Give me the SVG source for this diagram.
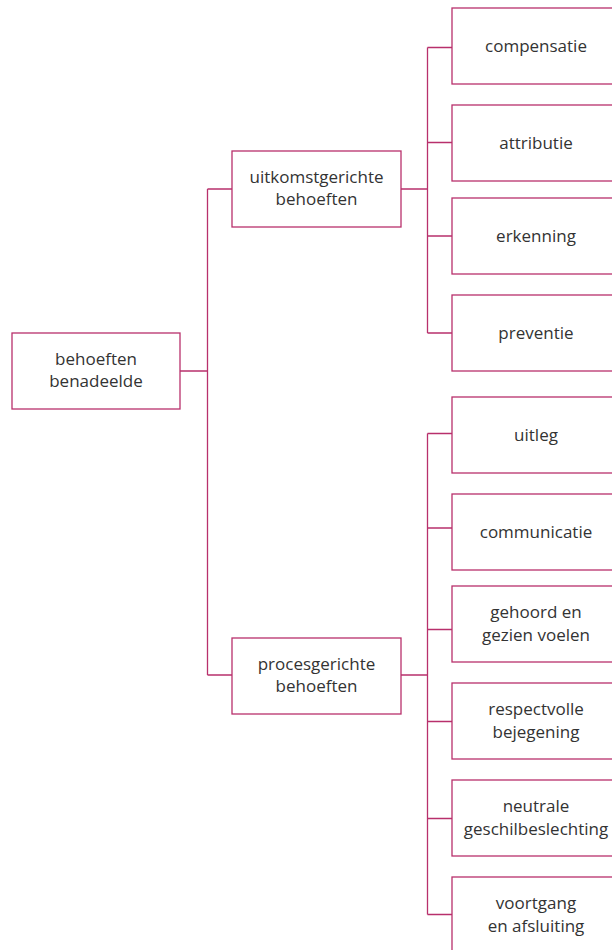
<svg xmlns="http://www.w3.org/2000/svg" width="612" height="950" viewBox="0 0 612 950">
  <style>
    .box { fill: #ffffff; stroke: #b8306c; stroke-width: 1.3; }
    .link { fill: none; stroke: #b8306c; stroke-width: 1.3; }
    .label { font-family: "Open Sans", "Liberation Sans", sans-serif; font-size: 17px; fill: #333333; text-anchor: middle; }
  </style>
  <rect width="612" height="950" fill="#ffffff"/>

  <!-- tree connectors -->
  <g id="connectors">
    <path class="link" d="M180 371 H207.5 M207.5 189 V675 M207.5 189 H232 M207.5 675 H232"/>
    <path class="link" d="M401 189 H427.5 M427.5 47.5 V333 M427.5 47.5 H452 M427.5 142.5 H452 M427.5 236 H452 M427.5 333 H452"/>
    <path class="link" d="M401 675 H427.5 M427.5 433.5 V914.5 M427.5 433.5 H452 M427.5 528 H452 M427.5 629.5 H452 M427.5 721.5 H452 M427.5 818.5 H452 M427.5 914.5 H452"/>
  </g>

  <!-- root -->
  <g id="behoeften-benadeelde">
    <rect class="box" x="12" y="333" width="168" height="76"/>
    <text class="label" x="96" y="365">behoeften</text>
    <text class="label" x="96" y="387">benadeelde</text>
  </g>

  <!-- second level -->
  <g id="uitkomstgerichte-behoeften">
    <rect class="box" x="232" y="151" width="169" height="76"/>
    <text class="label" x="316.5" y="183">uitkomstgerichte</text>
    <text class="label" x="316.5" y="205">behoeften</text>
  </g>
  <g id="procesgerichte-behoeften">
    <rect class="box" x="232" y="638" width="169" height="76"/>
    <text class="label" x="316.5" y="670">procesgerichte</text>
    <text class="label" x="316.5" y="692">behoeften</text>
  </g>

  <!-- outcome needs -->
  <g id="compensatie">
    <rect class="box" x="452" y="8" width="168" height="76"/>
    <text class="label" x="536" y="52">compensatie</text>
  </g>
  <g id="attributie">
    <rect class="box" x="452" y="105" width="168" height="76"/>
    <text class="label" x="536" y="149">attributie</text>
  </g>
  <g id="erkenning">
    <rect class="box" x="452" y="198" width="168" height="76"/>
    <text class="label" x="536" y="242">erkenning</text>
  </g>
  <g id="preventie">
    <rect class="box" x="452" y="295" width="168" height="76"/>
    <text class="label" x="536" y="339">preventie</text>
  </g>

  <!-- process needs -->
  <g id="uitleg">
    <rect class="box" x="452" y="397" width="168" height="76"/>
    <text class="label" x="536" y="441">uitleg</text>
  </g>
  <g id="communicatie">
    <rect class="box" x="452" y="494" width="168" height="76"/>
    <text class="label" x="536" y="538">communicatie</text>
  </g>
  <g id="gehoord-en-gezien-voelen">
    <rect class="box" x="452" y="586" width="168" height="76"/>
    <text class="label" x="536" y="618">gehoord en</text>
    <text class="label" x="536" y="641">gezien voelen</text>
  </g>
  <g id="respectvolle-bejegening">
    <rect class="box" x="452" y="683" width="168" height="76"/>
    <text class="label" x="536" y="715">respectvolle</text>
    <text class="label" x="536" y="738">bejegening</text>
  </g>
  <g id="neutrale-geschilbeslechting">
    <rect class="box" x="452" y="780" width="168" height="76"/>
    <text class="label" x="536" y="812">neutrale</text>
    <text class="label" x="536" y="835">geschilbeslechting</text>
  </g>
  <g id="voortgang-en-afsluiting">
    <rect class="box" x="452" y="877" width="168" height="76"/>
    <text class="label" x="536" y="909">voortgang</text>
    <text class="label" x="536" y="932">en afsluiting</text>
  </g>
</svg>
